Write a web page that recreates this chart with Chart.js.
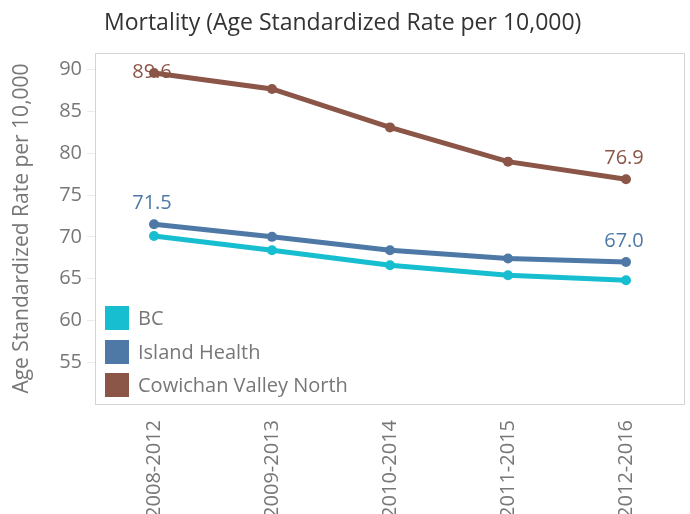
<!DOCTYPE html>
<html>
<head>
<meta charset="utf-8">
<script src="https://cdn.jsdelivr.net/npm/chart.js@4/dist/chart.umd.min.js"></script>
<style>
  html, body { margin: 0; padding: 0; background: #fff; }
  #wrap { width: 690px; height: 514px; }
</style>
</head>
<body>
<div id="wrap"><canvas id="chart_mortality"></canvas></div>
<script>
var periods = ['2008-2012', '2009-2013', '2010-2014', '2011-2015', '2012-2016'];
var bcValues = [70.1, 68.4, 66.6, 65.4, 64.8];
var islandValues = [71.5, 70.0, 68.4, 67.4, 67.0];
var cowichanValues = [89.6, 87.7, 83.1, 79.0, 76.9];
var yTicks = [55, 60, 65, 70, 75, 80, 85, 90];

var FONT = '"Open Sans", "Noto Sans", sans-serif';
var GREY = '#777777';

// title, frame, end labels and legend drawn straight on the canvas
var decor = {
    id: 'decor',
    beforeDatasetsDraw: function (chart) {
        var ctx = chart.ctx, a = chart.chartArea;
        ctx.save();
        ctx.strokeStyle = '#d4d4d4';
        ctx.lineWidth = 1;
        ctx.strokeRect(a.left + 0.5, a.top + 0.5, a.right - a.left - 1, a.bottom - a.top);
        ctx.fillStyle = '#333333';
        ctx.font = '23px ' + FONT;
        ctx.textBaseline = 'middle';
        ctx.textAlign = 'left';
        ctx.fillText('Mortality (Age Standardized Rate per 10,000)', 104, 23);
        ctx.restore();
    },
    afterDatasetsDraw: function (chart) {
        var ctx = chart.ctx, a = chart.chartArea;
        ctx.save();
        ctx.font = '20px ' + FONT;
        ctx.textAlign = 'center';
        ctx.textBaseline = 'middle';
        chart.data.datasets.forEach(function (ds, i) {
            if (!ds.endLabels) return;
            var meta = chart.getDatasetMeta(i);
            [0, ds.data.length - 1].forEach(function (j) {
                var p = meta.data[j];
                var y = Math.max(p.y - 21, a.top + 19);
                ctx.fillStyle = ds.borderColor;
                ctx.fillText(ds.data[j].toFixed(1), p.x - 2, y);
            });
        });
        // legend
        ctx.font = '20px ' + FONT;
        ctx.textAlign = 'left';
        var ly = [318, 352, 385];
        chart.data.datasets.forEach(function (ds, i) {
            ctx.fillStyle = ds.borderColor;
            ctx.fillRect(105, ly[i] - 12, 24, 24);
            ctx.fillStyle = GREY;
            ctx.fillText(ds.label, 138, ly[i] + 1);
        });
        ctx.restore();
    }
};

var ctx = document.getElementById('chart_mortality').getContext('2d');
var chart = new Chart(ctx, {
    type: 'line',
    data: {
        labels: periods,
        datasets: [{
            label: 'BC',
            data: bcValues,
            borderColor: '#17bed0',
            backgroundColor: '#17bed0',
            endLabels: false
        }, {
            label: 'Island Health',
            data: islandValues,
            borderColor: '#4e79a7',
            backgroundColor: '#4e79a7',
            endLabels: true
        }, {
            label: 'Cowichan Valley North',
            data: cowichanValues,
            borderColor: '#8b5547',
            backgroundColor: '#8b5547',
            endLabels: true
        }]
    },
    options: {
        responsive: true,
        maintainAspectRatio: false,
        animation: false,
        layout: { padding: { top: 53, right: 5, left: 0, bottom: 0 } },
        elements: {
            line: { borderWidth: 5, tension: 0 },
            point: { radius: 5, hoverRadius: 5, borderWidth: 0 }
        },
        plugins: {
            legend: { display: false },
            title: { display: false },
            tooltip: { enabled: false }
        },
        scales: {
            x: {
                offset: true,
                grid: { display: false },
                border: { display: false },
                ticks: {
                    color: GREY,
                    font: { family: FONT, size: 20 },
                    minRotation: 90,
                    maxRotation: 90,
                    padding: 8
                },
                afterFit: function (scale) { scale.height = 110; }
            },
            y: {
                min: 50,
                max: 92,
                border: { display: false },
                grid: {
                    drawOnChartArea: false,
                    drawTicks: true,
                    tickLength: 8,
                    color: '#ebebeb'
                },
                ticks: {
                    color: GREY,
                    font: { family: FONT, size: 20 },
                    padding: 5
                },
                afterBuildTicks: function (scale) {
                    scale.ticks = yTicks.map(function (v) { return { value: v }; });
                },
                title: {
                    display: true,
                    text: 'Age Standardized Rate per 10,000',
                    color: GREY,
                    font: { family: FONT, size: 21 },
                    padding: { top: 9, bottom: 0 }
                },
                afterFit: function (scale) { scale.width = 95; }
            }
        }
    },
    plugins: [decor]
});
</script>
</body>
</html>
